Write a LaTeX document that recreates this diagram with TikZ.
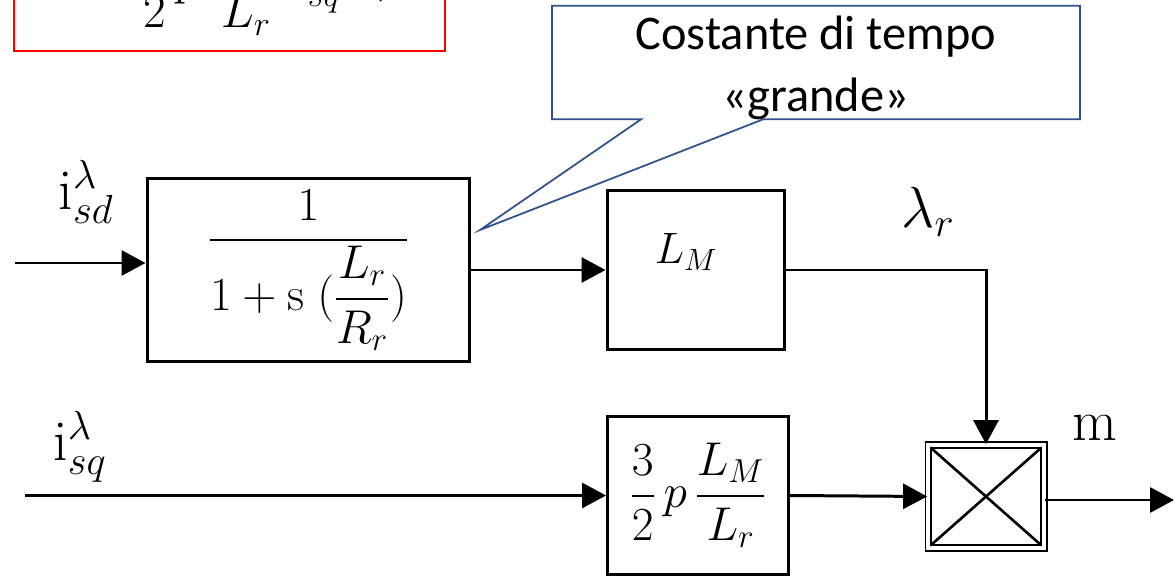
\RequirePackage{fix-cm}
\documentclass[tikz,border=0pt]{standalone}
\usepackage{fontspec}
\usepackage{amsmath}
\usetikzlibrary{positioning,arrows.meta,shapes.callouts}
\newfontfamily\calloutfont{Carlito}
\definecolor{calloutblue}{RGB}{47,82,143}

\tikzset{
    block/.style={draw, line width=1.7pt, rectangle, inner sep=0pt},
    signal/.style={line width=1.7pt, -{Triangle[length=0.48cm,width=0.5cm]}},
    tag/.style={font=\fontsize{33}{38}\selectfont},
}

\begin{document}
\begin{tikzpicture}[x=0.02cm, y=-0.02cm, font=\fontsize{27}{32}\selectfont]
    \useasboundingbox (0,0) rectangle (1174,577);
    \clip (0,0) rectangle (1174,577);

    % Formula (tagliata in alto)

    \node[draw=red, line width=1pt, minimum width=8.62cm, inner ysep=9pt, anchor=south] (eqbox) at (229.5,52)
        {\fontsize{28}{32}\selectfont$m=\dfrac{3}{2}\,p\,\dfrac{L_M}{L_r}\,i^{\lambda}_{sq}\,\lambda_r\hspace{16pt}$};

    % Blocchi

    \node[block, minimum width=6.46cm, minimum height=3.68cm] (lag) at (308.5,270)
        {$\dfrac{1}{1+\mathrm{s}\;(\dfrac{L_r}{R_r})}$};
    \node[block, minimum width=3.56cm, minimum height=3.2cm] (gainLM) at (696,270) {};
    \node[font=\fontsize{25}{30}\selectfont] (labLM) at (686,252) {$L_M$};
    \node[block, minimum width=3.62cm, minimum height=3.18cm] (gainT) at (698,495.5)
        {$\dfrac{3}{2}\,p\,\dfrac{L_M}{L_r}$};
    \node[block, line width=1pt, double, double distance=2pt, minimum width=2.32cm, minimum height=2.06cm] (mult) at (986,496.5) {};

    % Etichette

    \node[tag] (labsd) at (86,192) {$\mathrm{i}^{\lambda}_{sd}$};
    \node[tag] (labsq) at (80,447) {$\mathrm{i}^{\lambda}_{sq}$};
    \node[tag] (labr) at (928,212) {$\lambda_r$};
    \node[tag] (labm) at (1095,428) {m};

    % Nota

    \coordinate (tip) at (480,230);
    \node[rectangle callout, draw=calloutblue, line width=1pt, inner sep=0pt,
          minimum width=10.56cm, minimum height=2.1cm,
          callout absolute pointer={(tip)}, callout pointer width=2.44cm,
          align=center, font=\calloutfont\fontsize{27.5}{35}\selectfont] (note) at (816,62.5)
        {\rule{0pt}{25pt}Costante di tempo\\«grande»};

    % Collegamenti

    \coordinate (sdin) at (15,263);
    \coordinate (sqin) at (25,495.5);
    \coordinate (mout) at (1174,500);

    \draw[signal] (sdin) -- (sdin -| lag.west);
    \draw[signal] (lag.east) -- (gainLM.west);
    \draw[signal] (gainLM.east) -| (mult.north);
    \draw[signal] (sqin) -- (gainT.west);
    \draw[signal] (gainT.east) -- (mult.west);
    \draw[signal] (mult.east |- mout) -- (mout);
    \draw[line width=1.5pt] ([shift={(2pt,-2pt)}]mult.north west) -- ([shift={(-2pt,2pt)}]mult.south east);
    \draw[line width=1.5pt] ([shift={(-2pt,-2pt)}]mult.north east) -- ([shift={(2pt,2pt)}]mult.south west);

\end{tikzpicture}
\end{document}
